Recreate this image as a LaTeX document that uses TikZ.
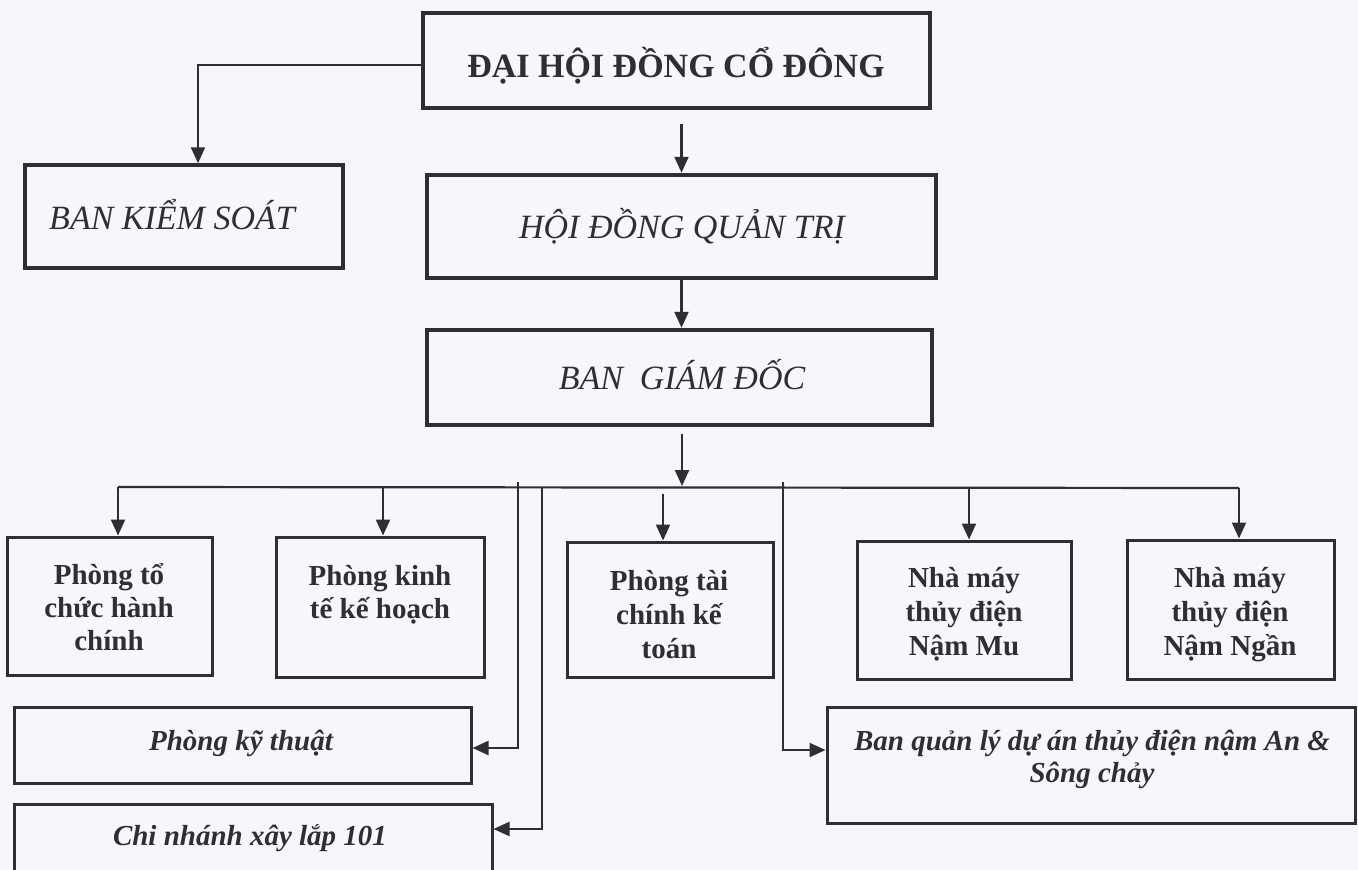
\documentclass[tikz,border=0pt]{standalone}
\usepackage{fontspec}
\setmainfont{Liberation Serif}
\usetikzlibrary{arrows.meta,fit,calc}
\definecolor{ink}{HTML}{2E2E33}
\definecolor{paper}{HTML}{F6F7FC}
\tikzset{
  conn/.style={draw=ink, line width=2.2pt},
  arr/.style={-{Triangle[length=16pt,width=14pt]}},
  boxbig/.style={draw=ink, line width=4.5pt, inner sep=0pt},
  boxmid/.style={draw=ink, line width=3.5pt, inner sep=0pt},
  boxsm/.style={draw=ink, line width=3pt, inner sep=0pt},
  lbl/.style={text=ink, align=center, inner sep=0pt, anchor=base},
  capsbf/.style={font=\fontsize{34}{40}\selectfont\bfseries},
  capsit/.style={font=\fontsize{34}{40}\selectfont\itshape},
  deptfont/.style={font=\fontsize{29}{33}\selectfont\bfseries},
  deptwide/.style={font=\fontsize{29}{34}\selectfont\bfseries},
  deptit/.style={font=\fontsize{29}{32}\selectfont\bfseries\itshape},
}
\begin{document}
\begin{tikzpicture}[x=1pt,y=-1pt]
\useasboundingbox (0,0) rectangle (1358,870);
\fill[paper] (0,0) rectangle (1358,870);

% boxes
\node[boxbig, fit={(423,13) (930,108)}] (dh) {};
\node[boxmid, fit={(25,165) (343,268)}] (bks) {};
\node[boxbig, fit={(427,175) (936,278)}] (hdqt) {};
\node[boxbig, fit={(427,330) (932,425)}] (bgd) {};
\node[boxsm, fit={(7,537) (212,675)}] (pto) {};
\node[boxsm, fit={(276,537) (484,677)}] (pkh) {};
\node[boxsm, fit={(567,542) (773,677)}] (ptc) {};
\node[boxsm, fit={(857,541) (1071,679)}] (nmm) {};
\node[boxsm, fit={(1127,540) (1334,679)}] (nmn) {};
\node[boxsm, fit={(14,707) (471,783)}] (pkt) {};
\node[boxsm, fit={(14,804) (492,880)}] (cn) {};
\node[boxsm, fit={(827,707) (1355,823)}] (bql) {};

% labels (anchor base = baseline of the last line)
\node[lbl, capsbf] (dhT) at (676,77) {ĐẠI HỘI ĐỒNG CỔ ĐÔNG};
\node[lbl, capsit] (bksT) at (172,229) {BAN KIỂM SOÁT};
\node[lbl, capsit] (hdqtT) at (682,238) {HỘI ĐỒNG QUẢN TRỊ};
\node[lbl, capsit] (bgdT) at (682,389) {BAN\ \ GIÁM ĐỐC};
\node[lbl, deptfont] (ptoT) at (109,650) {Phòng tổ\\chức hành\\chính};
\node[lbl, deptfont] (pkhT) at (380,618) {Phòng kinh\\tế kế hoạch};
\node[lbl, deptwide] (ptcT) at (669,658) {Phòng tài\\chính kế\\toán};
\node[lbl, deptwide] (nmmT) at (964,655) {Nhà máy\\thủy điện\\Nậm Mu};
\node[lbl, deptwide] (nmnT) at (1230,655) {Nhà máy\\thủy điện\\Nậm Ngần};
\node[lbl, deptit] (pktT) at (241,750) {Phòng kỹ thuật};
\node[lbl, deptit] (cnT) at (250,845) {Chi nhánh xây lắp 101};
\node[lbl, deptit] (bqlT) at (1092,782) {Ban quản lý dự án thủy điện nậm An \&\\Sông chảy};

% top connectors
\draw[conn, arr] ([yshift=-4.5pt]dh.west) -| ([xshift=14pt]bks.north);
\draw[conn, arr] ($(dh.south -| hdqt.north)+(0,14)$) -- (hdqt.north);
\draw[conn, arr] (hdqt.south) -- (hdqt.south |- bgd.north);
\coordinate (bjoin) at (682,486);
\draw[conn, arr] ($(bgd.south)+(2.5,7)$) -- (bjoin);

% bus
\coordinate (busL) at (118,487);
\coordinate (busR) at (1239,488);
\coordinate (b2) at (383,487);
\coordinate (b3) at (518,482);
\coordinate (b4) at (542,487);
\coordinate (b5) at (663,494);
\coordinate (b6) at (783,482);
\coordinate (b7) at (969,488);
\draw[conn] (busL) -- (busR);
\draw[conn, arr] (busL) -- (busL |- pto.north);
\draw[conn, arr] (b2) -- (b2 |- pkh.north);
\draw[conn, arr] (b3) |- ([yshift=-3pt]pkt.east);
\draw[conn, arr] (b4) |- ([yshift=13pt]cn.east);
\draw[conn, arr] (b5) -- (b5 |- ptc.north);
\draw[conn, arr] (b6) |- ([yshift=15pt]bql.west);
\draw[conn, arr] (b7) -- (b7 |- nmm.north);
\draw[conn, arr] (busR) -- (busR |- nmn.north);
\end{tikzpicture}
\end{document}
